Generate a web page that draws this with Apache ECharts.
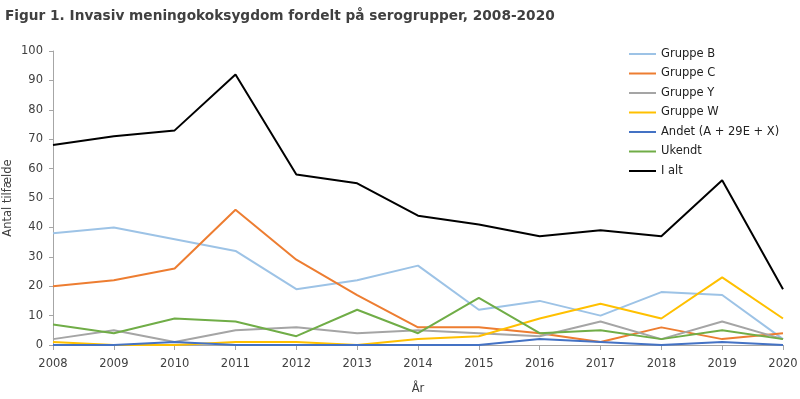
<!DOCTYPE html>
<html>
<head>
<meta charset="utf-8">
<script src="https://cdn.jsdelivr.net/npm/echarts@6/dist/echarts.min.js"></script>
<style>
  html, body { margin: 0; padding: 0; background: #fff; }
  #chart { width: 800px; height: 399px; }
</style>
</head>
<body>
<div id="chart"></div>
<script>
// data
const years = ['2008', '2009', '2010', '2011', '2012', '2013', '2014', '2015', '2016', '2017', '2018', '2019', '2020']
const gruppeB = [38, 40, 36, 32, 19, 22, 27, 12, 15, 10, 18, 17, 2]
const gruppeC = [20, 22, 26, 46, 29, 17, 6, 6, 4, 1, 6, 2, 4]
const gruppeY = [2, 5, 1, 5, 6, 4, 5, 4, 3, 8, 2, 8, 2]
const gruppeW = [1, 0, 0, 1, 1, 0, 2, 3, 9, 14, 9, 23, 9]
const andet = [0, 0, 1, 0, 0, 0, 0, 0, 2, 1, 0, 1, 0]
const ukendt = [7, 4, 9, 8, 3, 12, 4, 16, 4, 5, 2, 5, 2]
const iAlt = [68, 71, 73, 92, 58, 55, 44, 41, 37, 39, 37, 56, 19]

const font = '"DejaVu Sans", sans-serif'
const axisGrey = '#a6a6a6'
const textColor = '#404040'

const mkLine = (name, data, color) => ({
  name: name,
  type: 'line',
  data: data,
  symbol: 'none',
  lineStyle: { color: color, width: 2 },
  itemStyle: { color: color },
  animation: false
})

const chart = echarts.init(document.getElementById('chart'), null, { renderer: 'canvas' })

chart.setOption({
  backgroundColor: '#ffffff',
  textStyle: { fontFamily: font },
  title: {
    text: 'Figur 1. Invasiv meningokoksygdom fordelt på serogrupper, 2008-2020',
    left: 0,
    top: 4,
    textStyle: { color: textColor, fontSize: 13.7, fontWeight: 'bold', fontFamily: font }
  },
  legend: {
    orient: 'vertical',
    left: 624,
    top: 43,
    itemWidth: 27,
    itemHeight: 2,
    itemGap: 7.5,
    icon: 'rect',
    textStyle: { color: '#222222', fontSize: 11.5, fontFamily: font },
    data: ['Gruppe B', 'Gruppe C', 'Gruppe Y', 'Gruppe W', 'Andet (A + 29E + X)', 'Ukendt', 'I alt']
  },
  grid: { left: 53, right: 17, top: 51, bottom: 54, containLabel: false, outerBoundsMode: 'none' },
  xAxis: {
    type: 'category',
    data: years,
    boundaryGap: false,
    name: 'År',
    nameLocation: 'middle',
    nameGap: 38,
    nameMoveOverlap: false,
    nameTextStyle: { color: textColor, fontSize: 11.5 },
    axisLine: { lineStyle: { color: axisGrey } },
    axisTick: { show: true, alignWithLabel: true, length: 5, lineStyle: { color: axisGrey } },
    axisLabel: { color: textColor, fontSize: 11.5, margin: 13 }
  },
  yAxis: {
    type: 'value',
    min: 0,
    max: 100,
    interval: 10,
    name: 'Antal tilfælde',
    nameLocation: 'middle',
    nameGap: 39,
    nameMoveOverlap: false,
    nameTextStyle: { color: textColor, fontSize: 11.5 },
    axisLine: { show: true, lineStyle: { color: axisGrey } },
    axisTick: { show: true, length: 4, lineStyle: { color: axisGrey } },
    axisLabel: { color: textColor, fontSize: 11.5, margin: 10 },
    splitLine: { show: false }
  },
  series: [
    mkLine('Gruppe B', gruppeB, '#9dc3e6'),
    mkLine('Gruppe C', gruppeC, '#ed7d31'),
    mkLine('Gruppe Y', gruppeY, '#a5a5a5'),
    mkLine('Gruppe W', gruppeW, '#ffc000'),
    mkLine('Andet (A + 29E + X)', andet, '#4472c4'),
    mkLine('Ukendt', ukendt, '#70ad47'),
    mkLine('I alt', iAlt, '#000000')
  ]
})
</script>
</body>
</html>
